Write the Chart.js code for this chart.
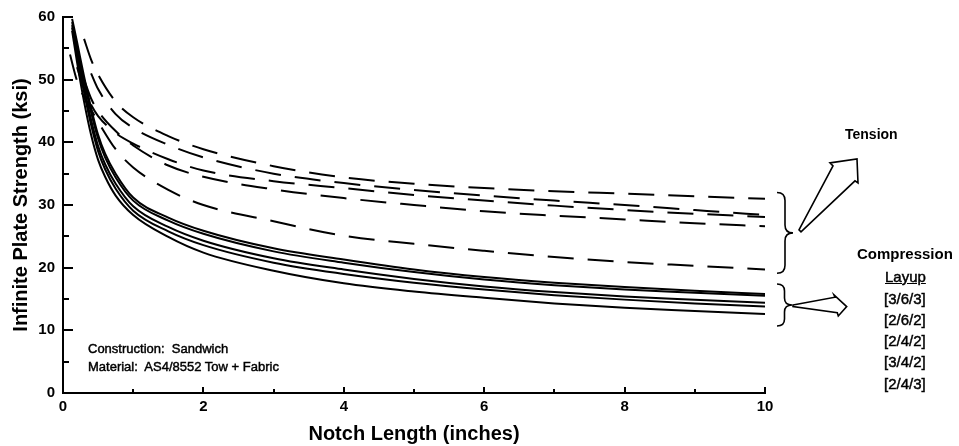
<!DOCTYPE html>
<html><head><meta charset="utf-8">
<script src="https://cdn.jsdelivr.net/npm/chart.js@4.4.0/dist/chart.umd.min.js"></script>
<style>
html,body{margin:0;padding:0;background:#fff;}
#wrap{position:relative;width:959px;height:446px;overflow:hidden;}
canvas{position:absolute;left:0;top:0;}
.t{position:absolute;font-family:"Liberation Sans",Arial,sans-serif;color:#000;white-space:nowrap;line-height:1;}
.b{font-weight:bold;}
.h{-webkit-text-stroke:0.45px #000;}
</style></head><body>
<div id="wrap">
<canvas id="c" width="959" height="446"></canvas>
<div class="t b" style="left:845px;top:127px;font-size:14px">Tension</div>
<div class="t b" style="left:857px;top:246px;font-size:15px">Compression</div>
<div class="t h" style="left:885px;top:269px;font-size:15px;text-decoration:underline">Layup</div>
<div class="t h" style="left:884px;top:291px;font-size:15px">[3/6/3]</div>
<div class="t h" style="left:884px;top:312px;font-size:15px">[2/6/2]</div>
<div class="t h" style="left:884px;top:333px;font-size:15px">[2/4/2]</div>
<div class="t h" style="left:884px;top:354px;font-size:15px">[3/4/2]</div>
<div class="t h" style="left:884px;top:376px;font-size:15px">[2/4/3]</div>
<div class="t h" style="left:88px;top:342px;font-size:13px">Construction:&nbsp; Sandwich</div>
<div class="t h" style="left:88px;top:360px;font-size:13px">Material:&nbsp; AS4/8552 Tow + Fabric</div>
</div>
<script>
// ---- data ----
const compressionX = [0.13, 0.2, 0.3, 0.4, 0.5, 0.6, 0.75, 1, 1.5, 2, 3, 4, 5, 6, 7, 8, 9, 10];
const comp1 = [59.7, 56.0, 50.5, 45.5, 41.2, 38.2, 35.0, 31.2, 28.0, 25.9, 23.1, 21.3, 19.7, 18.5, 17.6, 16.9, 16.3, 15.8];
const comp2 = [59.2, 55.3, 49.8, 44.8, 40.6, 37.6, 34.4, 30.7, 27.5, 25.4, 22.6, 20.8, 19.3, 18.1, 17.2, 16.5, 16.0, 15.5];
const comp3 = [58.7, 54.5, 48.8, 43.6, 39.4, 36.5, 33.4, 29.8, 26.5, 24.3, 21.5, 19.7, 18.2, 17.0, 16.1, 15.4, 14.9, 14.4];
const comp4 = [58.3, 53.8, 48.0, 42.8, 38.6, 35.7, 32.6, 29.1, 25.8, 23.6, 20.8, 19.0, 17.6, 16.5, 15.6, 14.9, 14.3, 13.8];
const comp5 = [57.8, 52.8, 46.5, 41.2, 37.2, 34.5, 31.5, 28.4, 24.9, 22.4, 19.5, 17.5, 16.2, 15.2, 14.3, 13.6, 13.1, 12.6];

const tensionX = [0.1, 0.2, 0.3, 0.4, 0.5, 0.75, 1, 1.5, 2, 3, 4, 5, 6, 7, 8, 9, 10];
const tens1 = [null, null, 56.5, 53.2, 50.8, 46.5, 44.0, 41.0, 38.9, 36.2, 34.4, 33.4, 32.7, 32.2, 31.8, 31.4, 31.0];
const tens2 = [null, null, null, 51.0, 48.5, 44.5, 42.3, 39.6, 37.6, 35.0, 33.5, 32.4, 31.5, 30.7, 30.0, 29.2, 28.4];
const tens3 = [null, 52.0, 48.5, 46.0, 44.2, 41.5, 39.8, 37.3, 35.5, 33.8, 32.7, 31.6, 30.7, 29.9, 29.2, 28.6, 28.1];
const tens4 = [null, null, 50.0, 47.0, 45.0, 41.8, 39.5, 36.3, 34.5, 32.5, 31.1, 30.0, 29.0, 28.3, 27.7, 27.1, 26.6];
const tens5 = [54.0, 49.8, 47.2, 45.2, 43.3, 38.9, 36.0, 32.4, 30.0, 27.4, 25.1, 23.8, 22.7, 21.7, 20.9, 20.3, 19.7];

const xTickLabels = ['0', '2', '4', '6', '8', '10'];
const yTickLabels = ['0', '10', '20', '30', '40', '50', '60'];
const xTitle = 'Notch Length (inches)';
const yTitle = 'Infinite Plate Strength (ksi)';

// ---- build datasets ----
function pts(xs, ys) {
  const out = [];
  xs.forEach((x, i) => { if (ys[i] !== null) out.push({x: x, y: ys[i]}); });
  return out;
}
const FONT = '"Liberation Sans", Arial, sans-serif';
const datasets = [];
[tens1, tens2, tens3, tens4, tens5].forEach((s, i) => datasets.push({
  label: 'Tension ' + (i + 1), data: pts(tensionX, s), showLine: true,
  borderColor: '#000', borderWidth: 2, borderDash: [26, 14], pointRadius: 0,
  cubicInterpolationMode: 'monotone', fill: false
}));
[comp1, comp2, comp3, comp4, comp5].forEach((s, i) => datasets.push({
  label: 'Compression ' + (i + 1), data: pts(compressionX, s), showLine: true,
  borderColor: '#000', borderWidth: 2, pointRadius: 0,
  cubicInterpolationMode: 'monotone', fill: false
}));

function drawBrace(ctx, x, yTop, yBot, w) {
  const mid = (yTop + yBot) / 2, r = Math.min(8, (yBot - yTop) / 6);
  const xm = x + w * 0.5;
  ctx.beginPath();
  ctx.moveTo(x, yTop);
  ctx.quadraticCurveTo(xm, yTop, xm, yTop + r);
  ctx.lineTo(xm, mid - r);
  ctx.quadraticCurveTo(xm, mid, x + w, mid);
  ctx.quadraticCurveTo(xm, mid, xm, mid + r);
  ctx.lineTo(xm, yBot - r);
  ctx.quadraticCurveTo(xm, yBot, x, yBot);
  ctx.stroke();
}
function poly(ctx, p0, offs) {
  ctx.beginPath();
  ctx.moveTo(p0[0] + offs[0][0], p0[1] + offs[0][1]);
  for (let i = 1; i < offs.length; i++) ctx.lineTo(p0[0] + offs[i][0], p0[1] + offs[i][1]);
  ctx.closePath();
  ctx.stroke();
}

const annot = {
  id: 'annot',
  afterDraw(chart) {
    const ctx = chart.ctx, xs = chart.scales.x, ys = chart.scales.y, a = chart.chartArea;
    ctx.save();
    ctx.strokeStyle = '#000';
    ctx.lineWidth = 2;
    // inward tick marks
    for (let v = 0; v <= 60; v += 5) {
      const y = Math.round(ys.getPixelForValue(v));
      const len = v % 10 === 0 ? 10 : 6;
      ctx.beginPath(); ctx.moveTo(a.left, y); ctx.lineTo(a.left + len, y); ctx.stroke();
    }
    for (let v = 0; v <= 10; v += 1) {
      const x = Math.round(xs.getPixelForValue(v));
      const len = v % 2 === 0 ? 6 : 4;
      ctx.beginPath(); ctx.moveTo(x, a.bottom); ctx.lineTo(x, a.bottom - len); ctx.stroke();
    }
    // braces
    ctx.lineWidth = 1.6;
    const bx = a.right + 12;
    const tTop = ys.getPixelForValue(32.0), tBot = ys.getPixelForValue(19.1);
    drawBrace(ctx, bx, tTop, tBot, 16);
    const cTop = ys.getPixelForValue(17.4), cBot = ys.getPixelForValue(10.7);
    drawBrace(ctx, bx, cTop, cBot, 15);
    // arrows
    const tTip = [bx + 16, (tTop + tBot) / 2];
    poly(ctx, tTip, [[6, -3], [40, -67], [37, -70], [64, -74], [65, -50], [62, -52], [8, -1]]);
    const cTip = [bx + 15, (cTop + cBot) / 2];
    poly(ctx, cTip, [[1, 0], [43, -7.7], [42, -10], [54.7, 1.7], [46.3, 11], [45.3, 7.7], [1, 1.7]]);
    ctx.restore();
  }
};

new Chart(document.getElementById('c'), {
  type: 'scatter',
  data: { datasets },
  plugins: [annot],
  options: {
    responsive: false, animation: false, devicePixelRatio: 1,
    layout: { padding: { left: 0, right: 194, top: 13, bottom: 0 } },
    plugins: { legend: { display: false }, tooltip: { enabled: false } },
    scales: {
      x: {
        type: 'linear', min: 0, max: 10,
        afterBuildTicks(s) { s.ticks = xTickLabels.map(t => ({ value: Number(t) })); },
        ticks: { color: '#000', font: { family: FONT, size: 15, weight: 'bold' }, padding: 5, maxRotation: 0,
                 callback: (v, i) => xTickLabels[i] },
        grid: { display: true, drawOnChartArea: false, drawTicks: false },
        border: { display: true, color: '#000', width: 2 },
        title: { display: true, text: xTitle, color: '#000', font: { family: FONT, size: 20, weight: 'bold' }, padding: { top: 1, bottom: 0 } },
        afterFit(s) { s.height = 53; }
      },
      y: {
        type: 'linear', min: 0, max: 60,
        afterBuildTicks(s) { s.ticks = yTickLabels.map(t => ({ value: Number(t) })); },
        ticks: { color: '#000', font: { family: FONT, size: 15, weight: 'bold' }, padding: 8,
                 callback: (v, i) => yTickLabels[i] },
        grid: { display: true, drawOnChartArea: false, drawTicks: false },
        border: { display: true, color: '#000', width: 2 },
        title: { display: true, text: yTitle, color: '#000', font: { family: FONT, size: 20, weight: 'bold' }, padding: { top: 9, bottom: 0 } },
        afterFit(s) { s.width = 63; }
      }
    }
  }
});
</script>
</body></html>
